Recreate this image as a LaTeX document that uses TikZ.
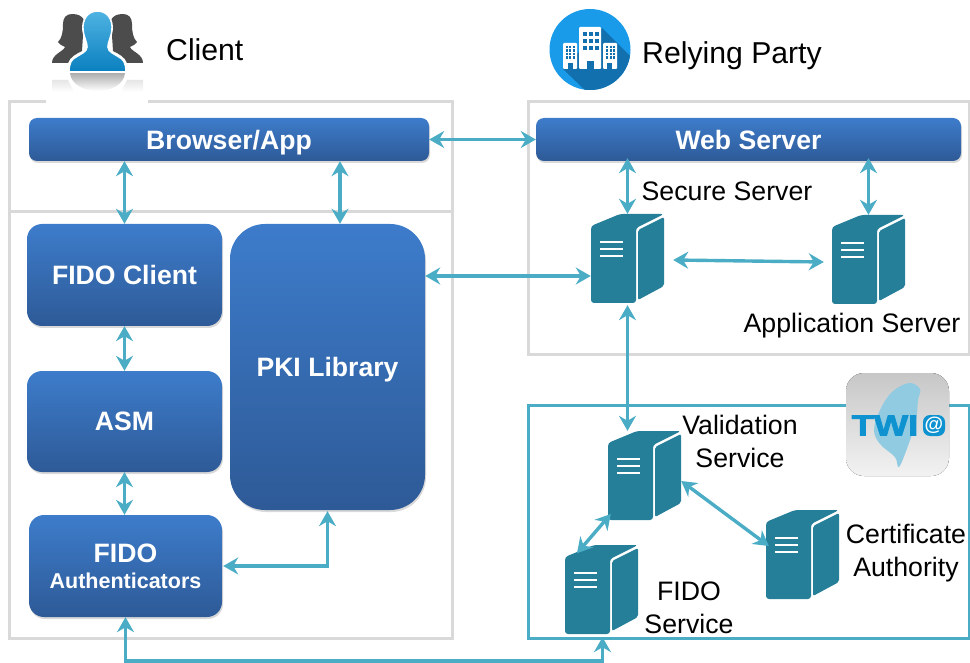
\documentclass[tikz,border=0pt]{standalone}
\usepackage{fontspec}
\setmainfont{Liberation Sans}
\newfontfamily\twifont{Liberation Sans}[BoldFeatures={RawFeature={embolden=2.5}}]
\usetikzlibrary{arrows.meta, positioning, calc, shadows}
\definecolor{linkblue}{HTML}{4BACC6}
\definecolor{boxtop}{HTML}{3D7CCB}
\definecolor{boxbot}{HTML}{2E5A97}
\definecolor{frameg}{HTML}{D9D9D9}
\definecolor{serverc}{HTML}{267F99}
\definecolor{twiblue}{HTML}{0E93D0}
\definecolor{iconblue}{HTML}{1A9BEA}
\definecolor{icondark}{HTML}{1270AE}
\definecolor{headtop}{HTML}{4FB3E2}
\definecolor{headbot}{HTML}{0A7FBF}
\definecolor{mapblue}{HTML}{90CBE2}
\tikzset{
  frame/.style={draw=frameg, line width=3pt},
  twiframe/.style={draw=linkblue, line width=3pt},
  bluebox/.style={rectangle, rounded corners=#1, top color=boxtop, bottom color=boxbot, text=white,
    inner sep=0pt, align=center, text depth=-1pt, font=\fontsize{26.6}{30}\selectfont\bfseries,
    drop shadow={shadow xshift=1pt, shadow yshift=-2pt, opacity=0.3}},
  bluebox/.default=15pt,
  label/.style={text=black, inner sep=0pt, align=center, font=\fontsize{26.7}{33}\selectfont},
  head/.style={text=black, inner sep=0pt, anchor=west, font=\fontsize{30.2}{34}\selectfont},
  link/.style={<->, draw=linkblue, line width=3.4pt},
  >={Stealth[length=15pt,width=17pt,inset=5pt]}
}
\newcommand{\serverbox}[3]{
  \node[minimum width=73pt, minimum height=89pt, inner sep=0pt] (#1) at (#2+36.5,#3+44.5) {};
  \begin{scope}[shift={(#2,#3)}]
    \fill[serverc, rounded corners=3pt] (0,89) -- (0,12) -- (29,0) -- (73,0) -- (45,14) -- (45,89) -- cycle;
    \fill[serverc, rounded corners=2pt] (47,16) -- (73,3) -- (73,72) -- (47,86) -- cycle;
    \foreach \ybar in {28,35,42}
      \draw[white, line width=1.5pt] (9,\ybar) -- (32,\ybar);
  \end{scope}
}
\newcommand{\personside}{
  \fill[black!70] (72,14) .. controls (66,14) and (63,18) .. (63,24) .. controls (63,32) and (62,38) .. (58,42)
    .. controls (60,45) and (63,46) .. (65,47) .. controls (63,52) and (52,54) .. (52,63) -- (68,63)
    .. controls (70,57) and (76,54) .. (82,51) -- (84,20) .. controls (82,16) and (78,14) .. (72,14) -- cycle;
  \shade[top color=black!10, bottom color=white] (52,80) -- (68,80) -- (74,92) -- (52,92) -- cycle;
}
\begin{document}
\begin{tikzpicture}[x=1pt, y=-1pt]
  \useasboundingbox (0,0) rectangle (970,663);

  \draw[frame] (9.5,102) rectangle (452,638);
  \draw[frame] (9.5,212) -- (452,212);
  \draw[frame] (528,102) rectangle (969,354);
  \draw[twiframe] (528,405) rectangle (969,638);
  \fill[white] (46,98) rectangle (148,104);

  % client icon
  \personside
  \begin{scope}[xshift=195pt, xscale=-1]
    \personside
  \end{scope}
  \shade[top color=black!32, bottom color=white] (70,73) -- (125,73) .. controls (124,85) and (110,91) .. (97.5,91) .. controls (85,91) and (71,85) .. (70,73) -- cycle;
  \draw[white, line width=1.6pt, top color=headtop, bottom color=headbot]
    (97.5,11) .. controls (87,11) and (82,20) .. (83,30) .. controls (84,38) and (87,42) .. (87,47)
    .. controls (87,52) and (80,54) .. (76,57) .. controls (72,59) and (69,62) .. (69,72) -- (126,72)
    .. controls (126,62) and (123,59) .. (119,57) .. controls (115,54) and (108,52) .. (108,47)
    .. controls (108,42) and (111,38) .. (112,30) .. controls (113,20) and (108,11) .. (97.5,11) -- cycle;
  \node[head] (client) at (166,50) {Client};

  % relying party icon
  \fill[iconblue] (590,49.5) circle (40.5);
  \begin{scope}
    \clip (590,49.5) circle (40.5);
    \fill[icondark] (602,28) -- (635,61) -- (635,95) -- (590,95) -- (563,69) -- cycle;
  \end{scope}
  \fill[white, rounded corners=1pt] (579,69) rectangle (601,27);
  \fill[white, rounded corners=1pt] (563,69) rectangle (577,43);
  \fill[white, rounded corners=1pt] (603,69) rectangle (617,43);
  \foreach \xw in {583,589,595}
    \foreach \yw in {32,39,46}
      \fill[icondark] (\xw,\yw) rectangle ++(4,4);
  \foreach \xw in {565.5,569,572.5,606,609.5,613}
    \foreach \yw in {46,49.5,53,56.5}
      \fill[icondark] (\xw,\yw) rectangle ++(2.2,2.2);
  \fill[icondark] (587,69) rectangle (594,61);
  \fill[icondark] (568,69) rectangle (573,63);
  \fill[icondark] (607,69) rectangle (612,63);
  \node[head] (party) at (642,55.5) {Relying Party};

  % twi icon
  \fill[top color=black!22, bottom color=black!5, rounded corners=18pt] (846,373) rectangle (949,476);
  \fill[mapblue] plot[smooth cycle, tension=0.6] coordinates {(909,383) (920,389) (918,400) (916,420) (909,443) (899,467) (895,457) (880,444) (874,430) (880,410) (892,392)};
  \node[text=twiblue, inner sep=0pt, xscale=1.25, font=\twifont\fontsize{29}{30}\selectfont\bfseries] (twi) at (885,425.5) {TWI};
  \fill[twiblue, rounded corners=7pt] (923,415) rectangle (945,436);
  \node[text=white, inner sep=0pt, font=\fontsize{19}{20}\selectfont\bfseries] (at) at (934,425.5) {@};

  \node[bluebox=8pt, minimum width=400pt, minimum height=43pt, text depth=-0.5pt] (browser) at (229,139.5) {Browser/App};
  \node[bluebox=8pt, minimum width=425pt, minimum height=43pt] (web) at (748.5,139.5) {Web Server};
  \node[bluebox, minimum width=195pt, minimum height=102pt] (fidoclient) at (124.5,275) {FIDO Client};
  \node[bluebox, minimum width=195pt, minimum height=101pt] (asm) at (124.5,421.5) {ASM};
  \node[bluebox, minimum width=193pt, minimum height=102pt, text depth=-4pt] (auth) at (125.5,566) {FIDO\\[-4pt]{\fontsize{21.5}{24}\selectfont Authenticators}};
  \node[bluebox=35pt, minimum width=195pt, minimum height=286pt] (pki) at (327.5,367) {PKI Library};

  \serverbox{secure}{591}{214}
  \serverbox{app}{832}{215}
  \serverbox{validation}{608}{431}
  \serverbox{fidoservice}{565}{545}
  \serverbox{ca}{766}{510}

  \node[label] (securelabel) at (727,191) {Secure Server};
  \node[label] (applabel) at (852,325.5) {Application Server};
  \node[label] (validationlabel) at (740,441) {Validation\\Service};
  \node[label] (calabel) at (906,553.5) {Certificate\\Authority};
  \node[label] (fidolabel) at (689,608) {FIDO\\Service};

  \coordinate (bend1) at (auth.east -| pki.south);
  \coordinate (bus) at (125.5,661);
  \coordinate (securein) at ([yshift=-17.5pt]secure.west);
  \coordinate (fidoin) at ([xshift=1pt,yshift=-3pt]fidoservice.south);

  \draw[link] (browser.east) -- (web.west);
  \draw[link] (browser.south -| fidoclient.north) -- (fidoclient.north);
  \draw[link] ([xshift=12.5pt]pki.north |- browser.south) -- ([xshift=12.5pt]pki.north);
  \draw[link] (fidoclient.south) -- (asm.north);
  \draw[link] (asm.south) -- (asm.south |- auth.north);
  \draw[link] (pki.east |- securein) -- (securein);
  \draw[link] ([yshift=3pt]web.south -| secure.north) -- (secure.north);
  \draw[link] ([yshift=3pt]web.south -| app.north) -- (app.north);
  \draw[link] ([xshift=9pt,yshift=-1.5pt]secure.east) -- ([xshift=-8pt,yshift=-2.5pt]app.west);
  \draw[link] ([yshift=-2pt]secure.south) -- (secure.south |- validation.north);
  \draw[link] ([xshift=3pt,yshift=-38.5pt]validation.west) -- ([xshift=-24.5pt,yshift=81pt]fidoservice.south);
  \draw[link] ([yshift=-5.5pt]validation.east) -- ([xshift=3pt,yshift=8.5pt]ca.west);
  \draw[link] ([xshift=1pt]auth.east) -- (bend1) -- ([yshift=-1pt]pki.south);
  \draw[link] (auth.south) -- (bus) -- (bus -| fidoin) -- (fidoin);
\end{tikzpicture}
\end{document}
